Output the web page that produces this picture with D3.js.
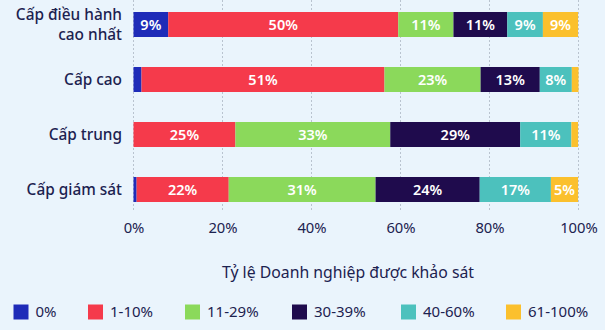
<!DOCTYPE html>
<html><head><meta charset="utf-8">
<script src="https://cdn.jsdelivr.net/npm/d3@7"></script>
<style>
html,body{margin:0;padding:0;background:#eaf4fc;}
svg{display:block;font-family:"Noto Sans","Open Sans",sans-serif;}
</style></head>
<body><svg id="c" width="605" height="330"></svg>
<script>
const categories = ["Cấp điều hành\ncao nhất", "Cấp cao", "Cấp trung", "Cấp giám sát"];
const seriesNames = ["0%", "1-10%", "11-29%", "30-39%", "40-60%", "61-100%"];
const colors = ["#1e2bb8", "#f53a4b", "#8bd95b", "#1f0b4d", "#4cc1bd", "#fbc02d"];
// bar widths (share of surveyed firms, %), per series, per category
const s0   = [7.8, 1.8, 0.0, 0.7];
const s1   = [51.7, 54.6, 22.9, 20.7];
const s2   = [12.4, 21.6, 34.8, 33.0];
const s3   = [12.1, 13.3, 29.2, 23.4];
const s4   = [8.0, 7.2, 11.5, 16.0];
const s5   = [7.9, 1.5, 1.5, 6.1];
// printed labels
const l0 = ["9%", "", "", ""];
const l1 = ["50%", "51%", "25%", "22%"];
const l2 = ["11%", "23%", "33%", "31%"];
const l3 = ["11%", "13%", "29%", "24%"];
const l4 = ["9%", "8%", "11%", "17%"];
const l5 = ["9%", "", "", "5%"];
const ticks = [0, 20, 40, 60, 80, 100];
const axisTitle = "Tỷ lệ Doanh nghiệp được khảo sát";

const series = [s0, s1, s2, s3, s4, s5];
const labels = [l0, l1, l2, l3, l4, l5];
const svg = d3.select("#c");
const x = d3.scaleLinear().domain([0, 100]).range([133.5, 578.5]);
const y = d3.scaleBand().domain(categories).range([-3, 217]).paddingInner(30/55).paddingOuter(15/55);
const textColor = "#1c2250";

// gridlines
svg.append("g").selectAll("line").data(ticks).join("line")
  .attr("x1", d => x(d)).attr("x2", d => x(d))
  .attr("y1", 0).attr("y2", 210)
  .attr("stroke", "#b9c3cf").attr("stroke-width", 1).attr("stroke-dasharray", "2,2");

const rows = categories.map((c, i) => {
  let acc = 0;
  return series.map((s, k) => { const v = s[i]; const r = {c, k, x0: acc, x1: acc + v, label: labels[k][i]}; acc += v; return r; });
}).flat();

svg.append("g").selectAll("rect").data(rows.filter(d => d.x1 > d.x0)).join("rect")
  .attr("x", d => x(d.x0)).attr("width", d => x(d.x1) - x(d.x0))
  .attr("y", d => y(d.c)).attr("height", y.bandwidth())
  .attr("fill", d => colors[d.k]);

svg.append("g").selectAll("text").data(rows.filter(d => d.label)).join("text")
  .attr("x", d => (x(d.x0) + x(d.x1)) / 2).attr("y", d => y(d.c) + y.bandwidth() / 2)
  .attr("dy", "0.36em").attr("text-anchor", "middle")
  .attr("fill", "#ffffff").attr("font-size", 14.5).attr("font-weight", 600)
  .text(d => d.label);

// category labels (each line its own text element)
const catLines = categories.flatMap(d => {
  const lines = d.split("\n");
  return lines.map((t, j) => ({d, t, off: j - (lines.length - 1) / 2}));
});
svg.append("g").selectAll("text").data(catLines).join("text")
  .attr("x", 122).attr("y", e => y(e.d) + y.bandwidth() / 2 + e.off * 20.5)
  .attr("dy", "0.36em").attr("text-anchor", "end")
  .attr("fill", textColor).attr("font-size", 15.4).attr("font-weight", 500)
  .text(e => e.t);

// x axis
const ax = svg.append("g").attr("transform", "translate(0,228)")
  .call(d3.axisBottom(x).tickValues(ticks).tickFormat(d => d + "%").tickSize(0).tickPadding(0));
ax.select(".domain").remove();
ax.selectAll("text").attr("fill", textColor).attr("font-size", 14.8)
  .attr("font-family", "Noto Sans, Open Sans, sans-serif").attr("dy", "0.36em");

svg.append("text").attr("x", 348).attr("y", 272).attr("dy", "0.36em")
  .attr("text-anchor", "middle").attr("fill", textColor).attr("font-size", 15.8).text(axisTitle);

// legend
const legX = [13.5, 88, 185, 292, 401, 506];
const lg = svg.append("g").selectAll("g").data(seriesNames).join("g")
  .attr("transform", (d, i) => `translate(${legX[i]},312)`);
lg.append("rect").attr("x", 0).attr("y", -7.5).attr("width", 15).attr("height", 15).attr("fill", (d, i) => colors[i]);
lg.append("text").attr("x", 22).attr("dy", "0.36em").attr("fill", textColor).attr("font-size", 15).text(d => d);
</script></body></html>
